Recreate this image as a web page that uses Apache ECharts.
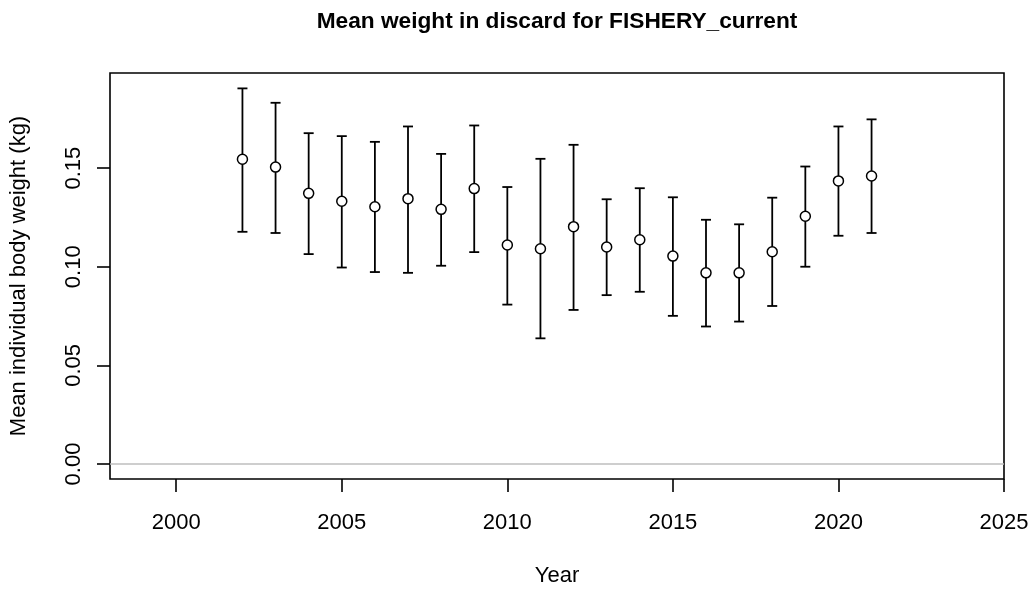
<!DOCTYPE html>
<html>
<head>
<meta charset="utf-8">
<script src="https://cdn.jsdelivr.net/npm/echarts@6/dist/echarts.min.js"></script>
<style>
html,body{margin:0;padding:0;background:#fff;}
#chart{width:1034px;height:589px;}
</style>
</head>
<body>
<div id="chart"></div>
<script>
// Data
var years = [2002,2003,2004,2005,2006,2007,2008,2009,2010,2011,2012,2013,2014,2015,2016,2017,2018,2019,2020,2021];
var means = [0.1545,0.1505,0.1372,0.1332,0.1304,0.1345,0.1291,0.1396,0.1110,0.1091,0.1203,0.1100,0.1137,0.1054,0.0969,0.0969,0.1076,0.1256,0.1435,0.1460];
var upper = [0.1904,0.1831,0.1677,0.1662,0.1633,0.1711,0.1572,0.1716,0.1404,0.1547,0.1618,0.1342,0.1398,0.1352,0.1238,0.1215,0.1350,0.1508,0.1711,0.1747];
var lower = [0.1177,0.1171,0.1064,0.0996,0.0973,0.0969,0.1005,0.1074,0.0808,0.0637,0.0781,0.0856,0.0873,0.0751,0.0697,0.0722,0.0801,0.1000,0.1157,0.1171];
var xTicks = [2000,2005,2010,2015,2020,2025];
var yTicks = [0,0.05,0.10,0.15];
var titleText = 'Mean weight in discard for FISHERY_current';
var xName = 'Year';
var yName = 'Mean individual body weight (kg)';

var FONT = "'Liberation Sans', Arial, sans-serif";
var chart = echarts.init(document.getElementById('chart'), null, {renderer:'canvas'});

var pointData = years.map(function(y,i){ return [y, means[i]]; });
var barData = years.map(function(y,i){ return [y, lower[i], upper[i]]; });

var option = {
  animation: false,
  backgroundColor: '#fff',
  title: {
    text: titleText,
    left: 557, top: 10, padding: 0,
    textAlign: 'center',
    textStyle: {fontFamily: FONT, fontSize: 22.7, fontWeight: 'bold', color: '#000'}
  },
  grid: {
    left: 110, right: 30, top: 73, bottom: 110,
    containLabel: false, outerBoundsMode: 'none',
    show: true, borderColor: '#000', borderWidth: 1.6, backgroundColor: 'transparent'
  },
  xAxis: {
    type: 'value', min: 1998, max: 2025,
    name: xName, nameLocation: 'middle', nameGap: 86,
    nameTextStyle: {fontFamily: FONT, fontSize: 22, color: '#000'},
    axisLine: {show: false, onZero: false},
    axisTick: {show: true, inside: false, length: 13, customValues: xTicks, lineStyle: {color: '#000', width: 1.6}},
    axisLabel: {show: true, margin: 33, customValues: xTicks, fontFamily: FONT, fontSize: 22, color: '#000',
      formatter: function(v){ return String(v); }},
    splitLine: {show: false}
  },
  yAxis: {
    type: 'value', min: -0.0076, max: 0.1982,
    name: yName, nameLocation: 'middle', nameGap: 80, nameRotate: 90,
    nameTextStyle: {fontFamily: FONT, fontSize: 22, color: '#000'},
    axisLine: {show: false, onZero: false},
    axisTick: {show: true, inside: false, length: 13, customValues: yTicks, lineStyle: {color: '#000', width: 1.6}},
    axisLabel: {show: true, margin: 25.5, rotate: 90, customValues: yTicks, fontFamily: FONT, fontSize: 22, color: '#000',
      formatter: function(v){ return v.toFixed(2); }},
    splitLine: {show: false}
  },
  series: [
    {
      type: 'custom',
      data: barData,
      encode: {x: 0, y: [1, 2]},
      z: 2,
      renderItem: function(params, api){
        var x = api.value(0);
        var lo = api.coord([x, api.value(1)]);
        var hi = api.coord([x, api.value(2)]);
        var hw = 5;
        var st = {stroke: '#000', lineWidth: 1.8};
        return {
          type: 'group',
          children: [
            {type: 'line', shape: {x1: lo[0], y1: lo[1], x2: hi[0], y2: hi[1]}, style: st},
            {type: 'line', shape: {x1: lo[0]-hw, y1: lo[1], x2: lo[0]+hw, y2: lo[1]}, style: st},
            {type: 'line', shape: {x1: hi[0]-hw, y1: hi[1], x2: hi[0]+hw, y2: hi[1]}, style: st}
          ]
        };
      },
      markLine: {
        silent: true, symbol: ['none','none'],
        label: {show: false},
        lineStyle: {color: '#bebebe', width: 1.6, type: 'solid'},
        data: [{yAxis: 0}]
      }
    },
    {
      type: 'scatter',
      data: pointData,
      z: 3,
      symbol: 'circle', symbolSize: 10,
      itemStyle: {color: '#fff', borderColor: '#000', borderWidth: 1.5, opacity: 1}
    }
  ]
};
chart.setOption(option);
</script>
</body>
</html>
